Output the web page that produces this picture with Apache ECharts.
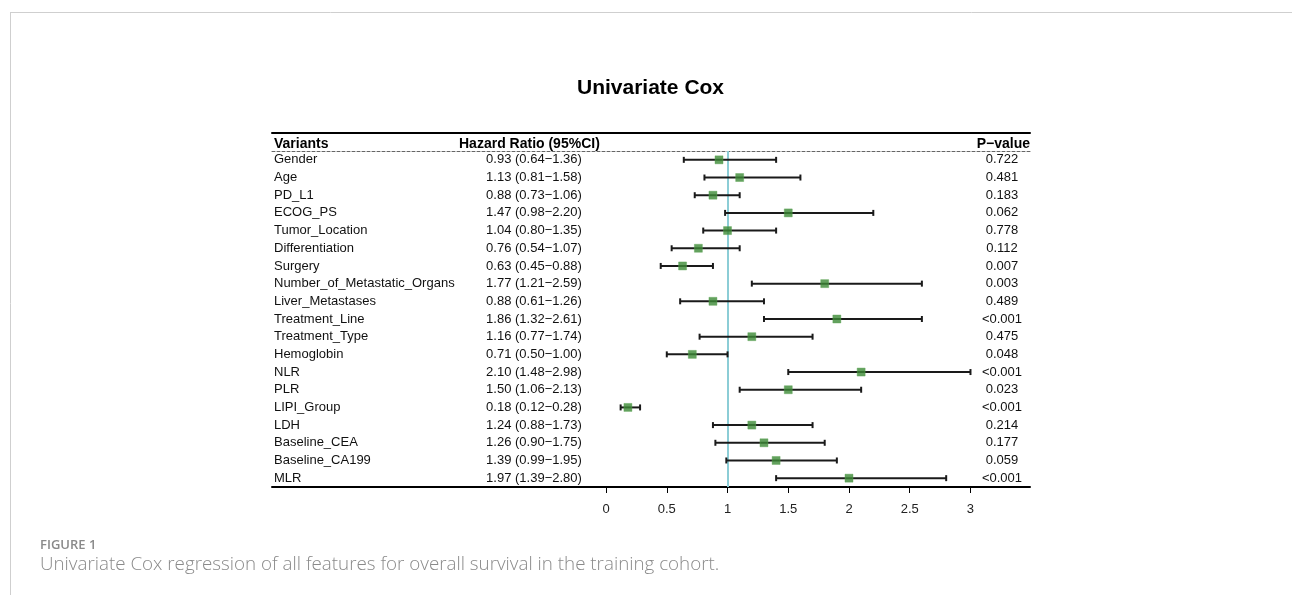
<!DOCTYPE html>
<html>
<head>
<meta charset="utf-8">
<script src="https://cdn.jsdelivr.net/npm/echarts@6/dist/echarts.min.js"></script>
<style>
html,body{margin:0;padding:0;background:#fff;}
#chart{width:1292px;height:595px;}
</style>
</head>
<body>
<div id="chart"></div>
<script>
// ---- data ----
const variants = ["Gender","Age","PD_L1","ECOG_PS","Tumor_Location","Differentiation","Surgery",
  "Number_of_Metastatic_Organs","Liver_Metastases","Treatment_Line","Treatment_Type","Hemoglobin",
  "NLR","PLR","LIPI_Group","LDH","Baseline_CEA","Baseline_CA199","MLR"];
const hrText = ["0.93 (0.64\u22121.36)","1.13 (0.81\u22121.58)","0.88 (0.73\u22121.06)","1.47 (0.98\u22122.20)",
  "1.04 (0.80\u22121.35)","0.76 (0.54\u22121.07)","0.63 (0.45\u22120.88)","1.77 (1.21\u22122.59)",
  "0.88 (0.61\u22121.26)","1.86 (1.32\u22122.61)","1.16 (0.77\u22121.74)","0.71 (0.50\u22121.00)",
  "2.10 (1.48\u22122.98)","1.50 (1.06\u22122.13)","0.18 (0.12\u22120.28)","1.24 (0.88\u22121.73)",
  "1.26 (0.90\u22121.75)","1.39 (0.99\u22121.95)","1.97 (1.39\u22122.80)"];
const pValues = ["0.722","0.481","0.183","0.062","0.778","0.112","0.007","0.003","0.489","<0.001",
  "0.475","0.048","<0.001","0.023","<0.001","0.214","0.177","0.059","<0.001"];
// plotted positions as drawn in the figure
const plotHR   = [0.93,1.10,0.88,1.50,1.00,0.76,0.63,1.80,0.88,1.90,1.20,0.71,2.10,1.50,0.18,1.20,1.30,1.40,2.00];
const plotLow  = [0.64,0.81,0.73,0.98,0.80,0.54,0.45,1.20,0.61,1.30,0.77,0.50,1.50,1.10,0.12,0.88,0.90,0.99,1.40];
const plotHigh = [1.40,1.60,1.10,2.20,1.40,1.10,0.88,2.60,1.30,2.60,1.70,1.00,3.00,2.10,0.28,1.70,1.80,1.90,2.80];
const xTicks = [0,0.5,1,1.5,2,2.5,3];
const refValue = 1;

const FONT = "'Liberation Sans', Arial, Helvetica, sans-serif";
const chart = echarts.init(document.getElementById('chart'));

const xMin = -2.75, xMax = 3.49;
const gridLeft = 272, gridRight = 1030, gridTop = 151, gridBottom = 487;

const whiskerData = variants.map((v, i) => [plotLow[i], plotHigh[i], i]);
const pointData = variants.map((v, i) => [plotHR[i], i]);

const option = {
  backgroundColor: '#fff',
  animation: false,
  title: {
    text: 'Univariate Cox',
    left: 577, top: 78, padding: 0,
    textStyle: {fontFamily: FONT, fontSize: 21, fontWeight: 'bold', color: '#000'}
  },
  grid: {left: gridLeft, right: 1292 - gridRight, top: gridTop, bottom: 595 - gridBottom, containLabel: false},
  xAxis: [
    {
      type: 'value', position: 'bottom', min: xMin, max: xMax,
      axisLine: {show: true, lineStyle: {color: '#000', width: 2}},
      axisTick: {show: true, customValues: xTicks, length: 6, lineStyle: {color: '#000', width: 1}},
      axisLabel: {show: true, customValues: xTicks, margin: 16, fontFamily: FONT, fontSize: 13, color: '#222',
        formatter: v => String(v)},
      splitLine: {show: false}
    },
    {
      type: 'value', position: 'top', offset: 0, min: xMin, max: xMax,
      axisLine: {show: true, lineStyle: {color: '#666', width: 1, type: [3, 2]}},
      axisTick: {show: false}, axisLabel: {show: false}, splitLine: {show: false}
    },
    {
      type: 'value', position: 'top', offset: 18, min: xMin, max: xMax,
      axisLine: {show: true, lineStyle: {color: '#000', width: 2}},
      axisTick: {show: false}, axisLabel: {show: false}, splitLine: {show: false}
    }
  ],
  yAxis: [
    {
      type: 'category', data: variants, inverse: true, position: 'left',
      axisLine: {show: false}, axisTick: {show: false}, splitLine: {show: false},
      axisLabel: {inside: true, margin: 2, align: 'left', fontFamily: FONT, fontSize: 13, color: '#111'}
    },
    {
      type: 'category', data: variants, inverse: true, position: 'left', offset: -(534 - gridLeft),
      axisLine: {show: false}, axisTick: {show: false}, splitLine: {show: false},
      axisLabel: {inside: true, margin: 0, align: 'center', fontFamily: FONT, fontSize: 13, color: '#111',
        formatter: (v, i) => hrText[i]}
    },
    {
      type: 'category', data: variants, inverse: true, position: 'right', offset: -(gridRight - 1002),
      axisLine: {show: false}, axisTick: {show: false}, splitLine: {show: false},
      axisLabel: {inside: true, margin: 0, align: 'center', fontFamily: FONT, fontSize: 13, color: '#111',
        formatter: (v, i) => pValues[i]}
    }
  ],
  graphic: [
    {type: 'line', shape: {x1: 10, y1: 12.5, x2: 1292, y2: 12.5}, style: {stroke: '#cfcfcf', lineWidth: 1}},
    {type: 'line', shape: {x1: 10.5, y1: 12, x2: 10.5, y2: 595}, style: {stroke: '#cfcfcf', lineWidth: 1}},
    {type: 'text', left: 274, top: 137, style: {text: 'Variants', font: "bold 14px " + FONT, fill: '#000'}},
    {type: 'text', left: 459, top: 137, style: {text: 'Hazard Ratio (95%CI)', font: "bold 14px " + FONT, fill: '#000'}},
    {type: 'text', right: 1292 - 1030, top: 137, style: {text: 'P\u2212value', font: "bold 14px " + FONT, fill: '#000'}},
    {type: 'text', left: 40, top: 539, style: {text: 'FIGURE 1', font: "600 13px 'Open Sans', sans-serif", fill: '#8a8a8a'}},
    {type: 'text', left: 40, top: 555, style: {text: 'Univariate Cox regression of all features for overall survival in the training cohort.', font: "300 18.8px 'Open Sans', sans-serif", fill: '#8a8a8a'}}
  ],
  series: [
    {
      type: 'custom', xAxisIndex: 0, yAxisIndex: 0,
      data: whiskerData,
      encode: {x: [0, 1], y: 2},
      renderItem: function (params, api) {
        const idx = api.value(2);
        const lo = api.coord([api.value(0), idx]);
        const hi = api.coord([api.value(1), idx]);
        const h = 3;
        const st = {stroke: '#1a1a1a', lineWidth: 2};
        return {type: 'group', children: [
          {type: 'line', shape: {x1: lo[0], y1: lo[1], x2: hi[0], y2: hi[1]}, style: st},
          {type: 'line', shape: {x1: lo[0], y1: lo[1] - h, x2: lo[0], y2: lo[1] + h}, style: st},
          {type: 'line', shape: {x1: hi[0], y1: hi[1] - h, x2: hi[0], y2: hi[1] + h}, style: st}
        ]};
      },
      z: 2
    },
    {
      type: 'scatter', xAxisIndex: 0, yAxisIndex: 0,
      data: pointData,
      symbol: 'rect', symbolSize: 8,
      itemStyle: {color: '#3c8a36', borderColor: '#5aa552', borderWidth: 0.5},
      z: 4,
      markLine: {
        silent: true, symbol: 'none', label: {show: false},
        lineStyle: {color: '#8ccdd6', width: 2, type: 'solid'},
        data: [{xAxis: refValue}],
        z: 1
      }
    }
  ]
};
chart.setOption(option);
</script>
</body>
</html>
